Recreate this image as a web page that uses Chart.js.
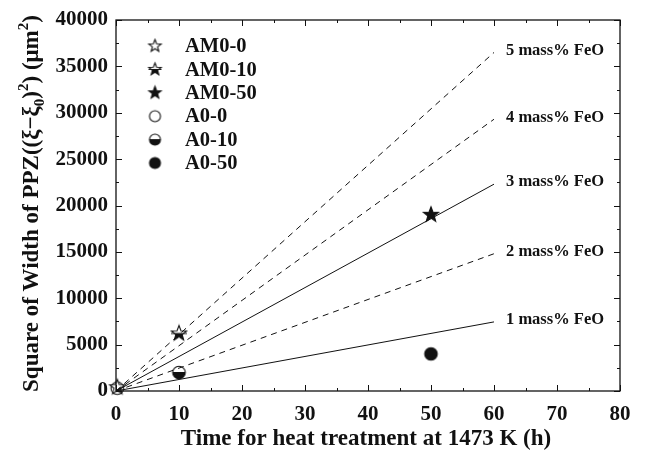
<!DOCTYPE html>
<html>
<head>
<meta charset="utf-8">
<script src="https://cdn.jsdelivr.net/npm/chart.js@4/dist/chart.umd.min.js"></script>
<style>
html,body{margin:0;padding:0;background:#fff;}
canvas{display:block;}
</style>
</head>
<body>
<canvas id="c" width="646" height="450"></canvas>
<script>
// ---- data ----
const feoLabels = ['1 mass% FeO', '2 mass% FeO', '3 mass% FeO', '4 mass% FeO', '5 mass% FeO'];
const feoEndValues = [7450, 14800, 22300, 29300, 36500];
const lineStartTime = 0;
const lineEndTime = 60;
const sampleNames = ['AM0-0', 'AM0-10', 'AM0-50', 'A0-0', 'A0-10', 'A0-50'];
const sampleTimes = [0.2, 10, 50, 0.2, 10, 50];
const sampleValues = [400, 6200, 19000, 300, 2000, 4000];
const xTickValues = [0, 10, 20, 30, 40, 50, 60, 70, 80];
const yTickValues = [0, 5000, 10000, 15000, 20000, 25000, 30000, 35000, 40000];
const xTitle = 'Time for heat treatment at 1473 K (h)';

const FONT = '"Liberation Serif", "Times New Roman", serif';

// ---- marker images ----
function starPath(ctx, cx, cy, R) {
  const r = R * 0.42;
  ctx.beginPath();
  for (let i = 0; i < 10; i++) {
    const a = -Math.PI / 2 + i * Math.PI / 5;
    const rr = i % 2 === 0 ? R : r;
    const x = cx + rr * Math.cos(a), y = cy + rr * Math.sin(a);
    if (i === 0) ctx.moveTo(x, y); else ctx.lineTo(x, y);
  }
  ctx.closePath();
}
function circlePath(ctx, cx, cy, R) {
  ctx.beginPath();
  ctx.arc(cx, cy, R, 0, Math.PI * 2);
  ctx.closePath();
}
function makeMarker(shape, fill, R) {
  const s = Math.ceil(R * 2 + 4);
  const cv = document.createElement('canvas');
  cv.width = s; cv.height = s;
  const ctx = cv.getContext('2d');
  const c = s / 2;
  const path = shape === 'star' ? starPath : circlePath;
  ctx.fillStyle = '#fff';
  path(ctx, c, c, R); ctx.fill();
  ctx.fillStyle = '#111';
  if (fill === 'full') { path(ctx, c, c, R); ctx.fill(); }
  else if (fill === 'half') {
    ctx.save();
    ctx.beginPath(); ctx.rect(0, c, s, s); ctx.clip();
    path(ctx, c, c, R); ctx.fill();
    ctx.restore();
    ctx.beginPath(); ctx.moveTo(c - R, c); ctx.lineTo(c + R, c);
    ctx.strokeStyle = '#111'; ctx.lineWidth = 1; ctx.stroke();
  }
  ctx.strokeStyle = '#111'; ctx.lineWidth = 1.1;
  path(ctx, c, c, R); ctx.stroke();
  return cv;
}
const markerSpec = [['star','open'],['star','half'],['star','full'],['circle','open'],['circle','half'],['circle','full']];
const dataMarkers = markerSpec.map(([sh, f]) => makeMarker(sh, f, sh === 'star' ? 8 : 6.3));
const legendMarkers = markerSpec.map(([sh, f]) => makeMarker(sh, f, sh === 'star' ? 6.5 : 5.5));

// ---- datasets ----
const datasets = [];
const dashedFlags = [false, true, false, true, true];
feoEndValues.forEach((v, i) => {
  datasets.push({
    type: 'line',
    label: feoLabels[i],
    data: [{x: lineStartTime, y: 0}, {x: lineEndTime, y: v}],
    borderColor: '#111',
    borderWidth: 1,
    borderDash: dashedFlags[i] ? [6, 5] : [],
    pointRadius: 0,
    fill: false
  });
});
sampleNames.forEach((n, i) => {
  datasets.push({
    type: 'scatter',
    label: n,
    data: [{x: sampleTimes[i], y: sampleValues[i]}],
    pointStyle: dataMarkers[i],
    pointRadius: 7,
    clip: false
  });
});

// ---- plugins ----
const framePlugin = {
  id: 'frame',
  afterDatasetsDraw(chart) {
    const {ctx, chartArea: a, scales: {x, y}} = chart;
    ctx.save();
    ctx.strokeStyle = '#111';
    ctx.lineWidth = 1.3;
    ctx.strokeRect(a.left, a.top, a.right - a.left, a.bottom - a.top);
    ctx.lineWidth = 1;
    ctx.beginPath();
    for (let v = 0; v <= 80; v += 5) {
      const px = Math.round(x.getPixelForValue(v)) + 0.5;
      const L = v % 10 === 0 ? 6 : 3;
      ctx.moveTo(px, a.bottom); ctx.lineTo(px, a.bottom - L);
      ctx.moveTo(px, a.top); ctx.lineTo(px, a.top + L);
    }
    for (let v = 0; v <= 40000; v += 2500) {
      const py = Math.round(y.getPixelForValue(v)) + 0.5;
      const L = v % 5000 === 0 ? 6 : 3;
      ctx.moveTo(a.left, py); ctx.lineTo(a.left + L, py);
      ctx.moveTo(a.right, py); ctx.lineTo(a.right - L, py);
    }
    ctx.stroke();

    // line annotations
    ctx.fillStyle = '#111';
    ctx.font = 'bold 16.5px ' + FONT;
    ctx.textAlign = 'left';
    ctx.textBaseline = 'middle';
    feoLabels.forEach((t, i) => {
      const px = x.getPixelForValue(lineEndTime) + 12;
      const py = y.getPixelForValue(feoEndValues[i]) - 2;
      ctx.fillText(t, px, py);
    });

    // legend
    ctx.font = 'bold 20.5px ' + FONT;
    sampleNames.forEach((n, i) => {
      const cy = 46 + i * 23.4;
      const m = legendMarkers[i];
      ctx.drawImage(m, 155 - m.width / 2, cy - m.height / 2);
      ctx.fillText(n, 185, cy + 1);
    });

    // x-axis title
    ctx.font = 'bold 23px ' + FONT;
    ctx.textAlign = 'center';
    ctx.fillText(xTitle, (a.left + a.right) / 2 - 2, 439);

    // y-axis title with sub/superscripts
    ctx.textAlign = 'left';
    const big = 23, small = 15;
    const pieces = [
      ['Square of Width of PPZ((\u03BE\u2212\u03BE', big, 0],
      ['0', small, 6],
      [')', big, 0],
      ['2', small, -10],
      [') (\u03BCm', big, 0],
      ['2', small, -10],
      [')', big, 0]
    ];
    let total = 0;
    pieces.forEach(p => { ctx.font = 'bold ' + p[1] + 'px ' + FONT; p.w = ctx.measureText(p[0]).width; total += p.w; });
    ctx.translate(38, (a.top + a.bottom) / 2 - 2);
    ctx.rotate(-Math.PI / 2);
    ctx.textBaseline = 'alphabetic';
    let cx = -total / 2;
    pieces.forEach(p => {
      ctx.font = 'bold ' + p[1] + 'px ' + FONT;
      ctx.fillText(p[0], cx, p[2]);
      cx += p.w;
    });
    ctx.restore();
  }
};

new Chart(document.getElementById('c'), {
  type: 'scatter',
  data: {datasets},
  plugins: [framePlugin],
  options: {
    responsive: false,
    devicePixelRatio: 1,
    animation: false,
    layout: {padding: {left: 0, right: 26, top: 20, bottom: 0}},
    plugins: {legend: {display: false}, tooltip: {enabled: false}},
    scales: {
      x: {
        type: 'linear', min: 0, max: 80,
        afterFit(s) { s.height = 59; },
        afterBuildTicks(s) { s.ticks = xTickValues.map(v => ({value: v})); },
        grid: {display: false},
        border: {display: false},
        ticks: {
          padding: 3, color: '#111',
          font: {family: FONT, size: 21, weight: 'bold'},
          callback: v => String(v)
        }
      },
      y: {
        type: 'linear', min: 0, max: 40000,
        afterFit(s) { s.width = 116; },
        afterBuildTicks(s) { s.ticks = yTickValues.map(v => ({value: v})); },
        grid: {display: false},
        border: {display: false},
        ticks: {
          padding: 0, color: '#111',
          font: {family: FONT, size: 21, weight: 'bold'},
          callback: v => String(v)
        }
      }
    }
  }
});
</script>
</body>
</html>
